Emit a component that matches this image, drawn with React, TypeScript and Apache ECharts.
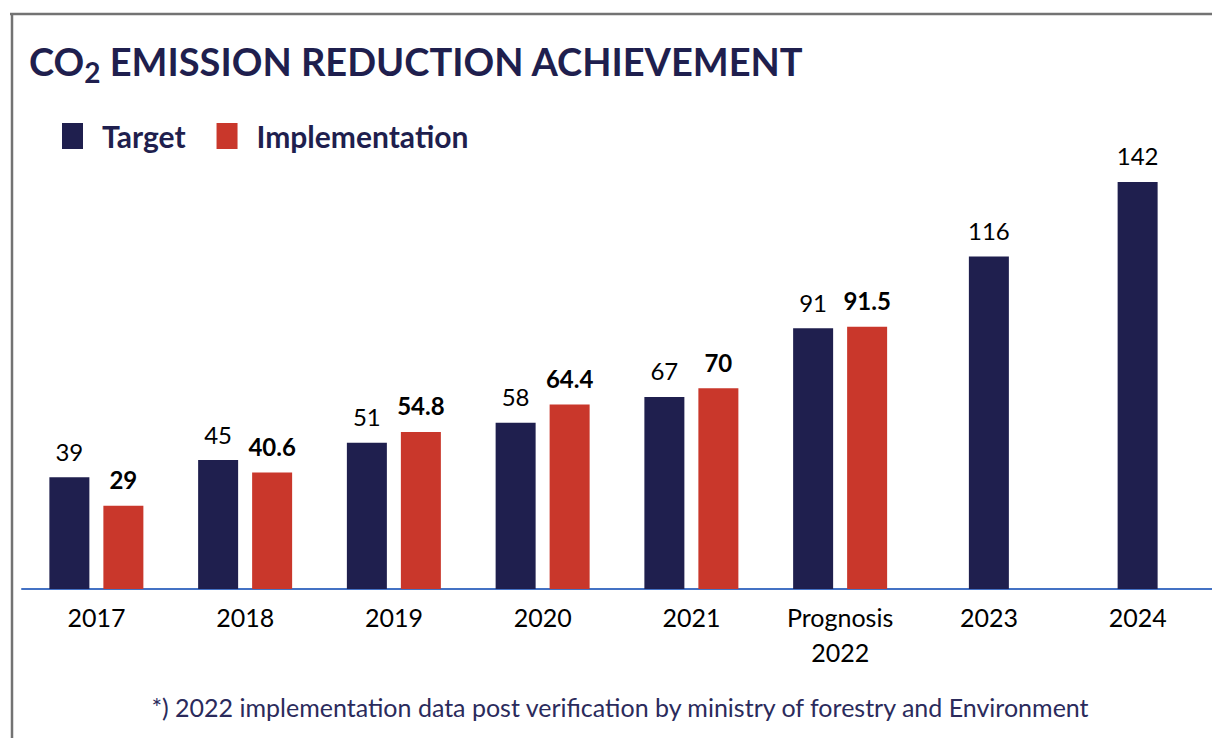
import React, { useEffect, useRef } from "react";
import * as echarts from "echarts";

const categories = ["2017", "2018", "2019", "2020", "2021", "Prognosis\n2022", "2023", "2024"];
const targetValues = [39, 45, 51, 58, 67, 91, 116, 142];
const implementationValues: (number | null)[] = [29, 40.6, 54.8, 64.4, 70, 91.5, null, null];
const footnote = "*) 2022 implementation data post verification by ministry of forestry and Environment";

const NAVY = "#1f1f4e";
const RED = "#c9372b";
const FONT = "Lato, 'Open Sans', sans-serif";

export default function App() {
  const ref = useRef<HTMLDivElement>(null);
  useEffect(() => {
    document.body.style.margin = "0";
    if (!ref.current) return;
    const chart = echarts.init(ref.current, undefined, { renderer: "svg" });

    const groupedTarget = targetValues.map((v, i) => (implementationValues[i] != null ? v : null));
    const soloTarget = targetValues.map((v, i) => (implementationValues[i] == null ? v : null));

    const valueLabel = (bold: boolean) => ({
      show: true,
      position: "top" as const,
      distance: 14,
      fontFamily: FONT,
      fontSize: 24,
      fontWeight: bold ? ("bold" as const) : ("normal" as const),
      color: "#000",
    });

    chart.setOption({
      animation: false,
      backgroundColor: "#fff",
      textStyle: { fontFamily: FONT },
      title: {
        left: 24,
        top: 37,
        text: "{a|CO}{s|2}{a| EMISSION REDUCTION ACHIEVEMENT}",
        textStyle: {
          rich: {
            a: { fontFamily: FONT, fontSize: 38, fontWeight: "bold", color: NAVY, lineHeight: 46, verticalAlign: "top" },
            s: { fontFamily: FONT, fontSize: 28, fontWeight: "bold", color: NAVY, lineHeight: 46, padding: [16, 0, 0, 0], verticalAlign: "top" },
          },
        },
      },
      legend: {
        data: ["Target", "Implementation"],
        left: 57,
        top: 116,
        icon: "rect",
        itemWidth: 21,
        itemHeight: 26,
        itemGap: 31,
        textStyle: { fontFamily: FONT, fontSize: 30, fontWeight: "bold", color: NAVY, padding: [0, 0, 0, 14] },
      },
      grid: { left: 22, top: 159, width: 1195, bottom: 149, containLabel: false },
      xAxis: [
        {
          type: "category",
          data: categories,
          axisLine: { show: true, lineStyle: { color: "#4472c4", width: 2 } },
          axisTick: { show: false },
          axisLabel: { fontFamily: FONT, fontSize: 25, color: "#000", margin: 10, lineHeight: 35, interval: 0 },
        },
        { type: "category", data: categories, show: false },
      ],
      yAxis: { type: "value", min: 0, max: 150, show: false, splitLine: { show: false } },
      series: [
        {
          name: "Target",
          type: "bar",
          xAxisIndex: 0,
          data: groupedTarget,
          barWidth: 40,
          itemStyle: { color: NAVY },
          label: valueLabel(false),
        },
        {
          name: "Implementation",
          type: "bar",
          xAxisIndex: 0,
          data: implementationValues,
          barWidth: 40,
          barGap: "35%",
          itemStyle: { color: RED },
          label: valueLabel(true),
        },
        {
          name: "Target",
          type: "bar",
          xAxisIndex: 1,
          data: soloTarget,
          barWidth: 40,
          itemStyle: { color: NAVY },
          label: valueLabel(false),
        },
      ],
      graphic: [
        { type: "line", shape: { x1: 10, y1: 14, x2: 1212, y2: 14 }, style: { stroke: "#737373", lineWidth: 2.5 } },
        { type: "line", shape: { x1: 12, y1: 13, x2: 12, y2: 738 }, style: { stroke: "#737373", lineWidth: 2.5 } },
        {
          type: "text",
          x: 620,
          y: 707,
          style: {
            text: footnote,
            fontFamily: FONT,
            fontSize: 25,
            fill: "#2b2b5c",
            textAlign: "center",
            textVerticalAlign: "middle",
          },
        },
      ],
    });
    return () => chart.dispose();
  }, []);
  return <div ref={ref} style={{ width: 1212, height: 738 }} />;
}
